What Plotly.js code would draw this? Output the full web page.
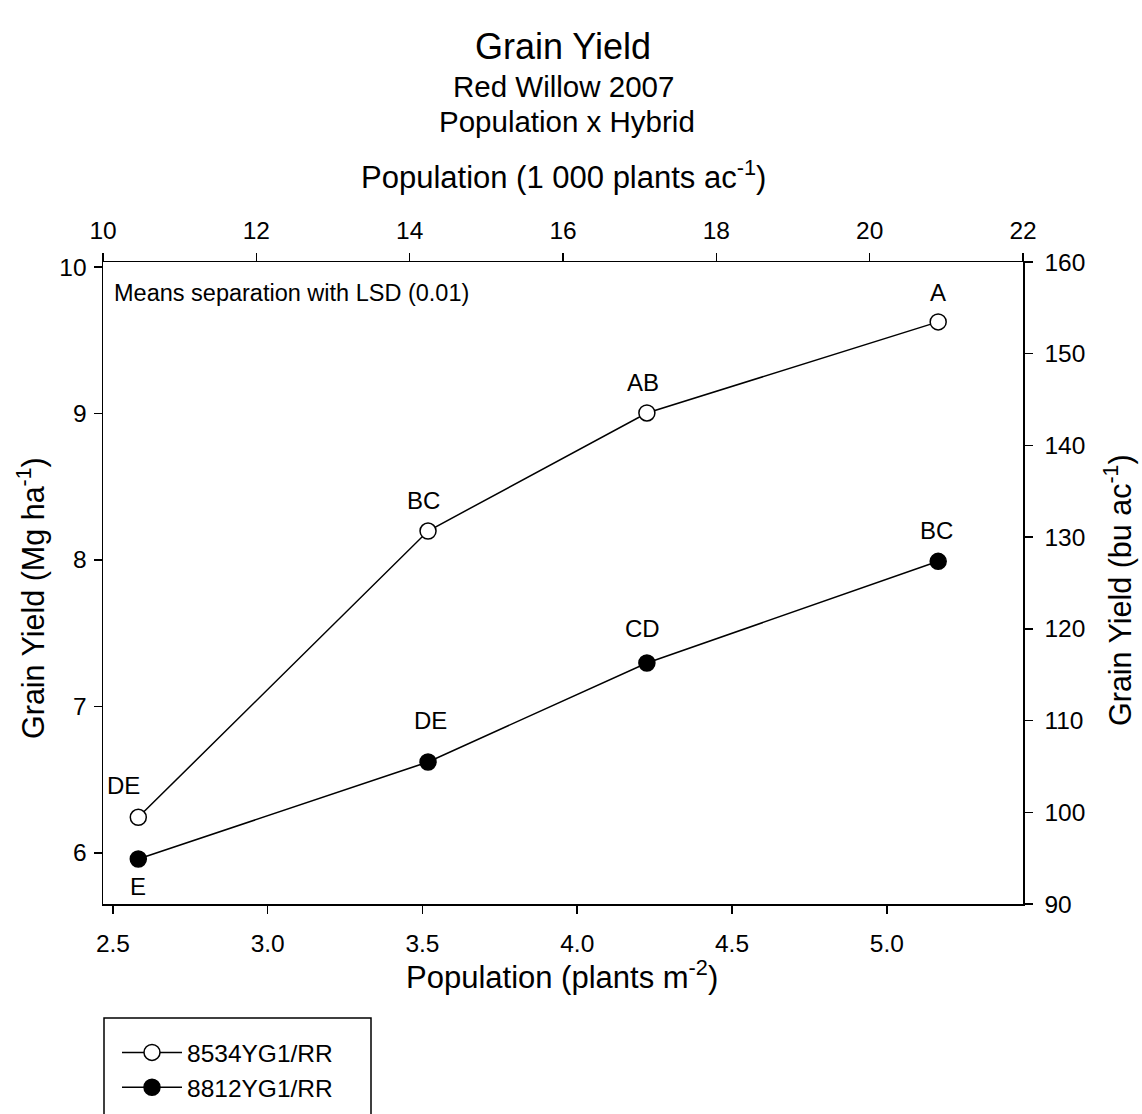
<!DOCTYPE html>
<html>
<head>
<meta charset="utf-8">
<script src="https://cdn.plot.ly/plotly-3.0.1.min.js"></script>
<style>html,body{margin:0;padding:0;background:#fff;}#chart{width:1142px;height:1114px;}</style>
</head>
<body>
<div id="chart"></div>
<script>
// ---- data ----
const population = [2.582, 3.518, 4.225, 5.166];          // plants m^-2
const yield8534 = [6.242, 8.197, 9.003, 9.625];           // Mg ha^-1
const yield8812 = [5.957, 6.620, 7.296, 7.990];           // Mg ha^-1
const letters8534 = ["DE", "BC", "AB", "A"];
const letters8812 = ["E", "DE", "CD", "BC"];
const seriesNames = ["8534YG1/RR", "8812YG1/RR"];
const bottomTicks = [2.5, 3.0, 3.5, 4.0, 4.5, 5.0];
const topTicks = [10, 12, 14, 16, 18, 20, 22];
const leftTicks = [6, 7, 8, 9, 10];
const rightTicks = [90, 100, 110, 120, 130, 140, 150, 160];

// ---- styling ----
const FONT = "Liberation Sans, Arial, Helvetica, sans-serif";
const W = 1142, H = 1114;
const M = {l: 103, r: 119, t: 262, b: 210};
const PW = W - M.l - M.r, PH = H - M.t - M.b;
const px2paperX = x => (x - M.l) / PW;
const px2paperY = y => (H - M.b - y) / PH;

const axisCommon = {
  showline: true, linecolor: "#000", linewidth: 1.5,
  ticks: "outside", ticklen: 8, tickwidth: 1.5, tickcolor: "#000",
  showgrid: false, zeroline: false,
  tickfont: {family: FONT, size: 24.5, color: "#000"},
  fixedrange: true
};

const traces = [
  {
    x: population, y: yield8534, name: seriesNames[0],
    mode: "lines+markers", type: "scatter",
    line: {color: "#000", width: 1.5},
    marker: {symbol: "circle", size: 16, color: "#fff", line: {color: "#000", width: 1.5}}
  },
  {
    x: population, y: yield8812, name: seriesNames[1],
    mode: "lines+markers", type: "scatter",
    line: {color: "#000", width: 1.5},
    marker: {symbol: "circle", size: 16, color: "#000", line: {color: "#000", width: 1.5}}
  },
  { x: [], y: [], xaxis: "x2", yaxis: "y2", showlegend: false, hoverinfo: "skip", type: "scatter", mode: "markers" }
];

// label offsets (px) for letter annotations
const off8534 = [[-15, 32], [-5, 31], [-4, 30], [0, 29]];
const off8812 = [[0, -27], [2, 41], [-4, 34], [-2, 31]];

const letterFont = {family: FONT, size: 24, color: "#000"};
const annotations = [];
population.forEach((xv, i) => {
  annotations.push({x: xv, y: yield8534[i], xref: "x", yref: "y", text: letters8534[i],
    showarrow: false, xshift: off8534[i][0], yshift: off8534[i][1], font: letterFont});
  annotations.push({x: xv, y: yield8812[i], xref: "x", yref: "y", text: letters8812[i],
    showarrow: false, xshift: off8812[i][0], yshift: off8812[i][1], font: letterFont});
});

annotations.push({
  text: "Means separation with LSD (0.01)", xref: "paper", yref: "paper",
  x: px2paperX(112), y: px2paperY(293), xanchor: "left", yanchor: "middle",
  showarrow: false, font: {family: FONT, size: 23.5, color: "#000"}
});
// subtitle lines
annotations.push({
  text: "Red Willow 2007", xref: "paper", yref: "paper",
  x: px2paperX(563), y: px2paperY(87), xanchor: "center", yanchor: "middle",
  showarrow: false, font: {family: FONT, size: 29.5, color: "#000"}
});
annotations.push({
  text: "Population x Hybrid", xref: "paper", yref: "paper",
  x: px2paperX(567), y: px2paperY(122), xanchor: "center", yanchor: "middle",
  showarrow: false, font: {family: FONT, size: 29.5, color: "#000"}
});
// axis titles
annotations.push({
  text: "Population (1 000 plants ac<sup>-1</sup>)", xref: "paper", yref: "paper",
  x: px2paperX(563), y: px2paperY(175), xanchor: "center", yanchor: "middle",
  showarrow: false, font: {family: FONT, size: 31, color: "#000"}
});
annotations.push({
  text: "Population (plants m<sup>-2</sup>)", xref: "paper", yref: "paper",
  x: px2paperX(562), y: px2paperY(975), xanchor: "center", yanchor: "middle",
  showarrow: false, font: {family: FONT, size: 31, color: "#000"}
});
annotations.push({
  text: "Grain Yield (Mg ha<sup>-1</sup>)", xref: "paper", yref: "paper",
  x: px2paperX(31), y: px2paperY(598), xanchor: "center", yanchor: "middle", textangle: -90,
  showarrow: false, font: {family: FONT, size: 30.5, color: "#000"}
});
annotations.push({
  text: "Grain Yield (bu ac<sup>-1</sup>)", xref: "paper", yref: "paper",
  x: px2paperX(1118), y: px2paperY(590), xanchor: "center", yanchor: "middle", textangle: -90,
  showarrow: false, font: {family: FONT, size: 30.5, color: "#000"}
});

const layout = {
  width: W, height: H,
  margin: {l: M.l, r: M.r, t: M.t, b: M.b, autoexpand: false},
  paper_bgcolor: "#fff", plot_bgcolor: "#fff",
  font: {family: FONT, color: "#000"},
  title: {
    text: "Grain Yield",
    font: {family: FONT, size: 36, color: "#000"},
    x: px2paperX(563), xref: "paper", xanchor: "center",
    y: 1 - 46 / H, yref: "container", yanchor: "middle"
  },
  xaxis: Object.assign({}, axisCommon, {
    range: [2.468, 5.440], tickvals: bottomTicks, tickformat: ".1f", ticklabelstandoff: 9
  }),
  xaxis2: Object.assign({}, axisCommon, {
    range: [10, 22], tickvals: topTicks, overlaying: "x", side: "top", anchor: "y", ticklabelstandoff: 4
  }),
  yaxis: Object.assign({}, axisCommon, {
    range: [5.650, 10.034], tickvals: leftTicks, ticklabelstandoff: 2
  }),
  yaxis2: Object.assign({}, axisCommon, {
    range: [90, 160], tickvals: rightTicks, overlaying: "y", side: "right", anchor: "x", ticklabelstandoff: 7
  }),
  showlegend: true,
  legend: {
    x: px2paperX(117), y: px2paperY(1030), xanchor: "left", yanchor: "top",
    bgcolor: "rgba(0,0,0,0)", borderwidth: 0,
    font: {family: FONT, size: 24.5, color: "#000"},
    itemwidth: 60, tracegroupgap: 0
  },
  shapes: [{
    type: "rect", xref: "paper", yref: "paper",
    x0: px2paperX(104), x1: px2paperX(371), y0: px2paperY(1018), y1: px2paperY(1130),
    line: {color: "#000", width: 1.5}, fillcolor: "rgba(0,0,0,0)", layer: "above"
  }],
  annotations: annotations
};

Plotly.newPlot("chart", traces, layout, {displayModeBar: false, staticPlot: true});
</script>
</body>
</html>
